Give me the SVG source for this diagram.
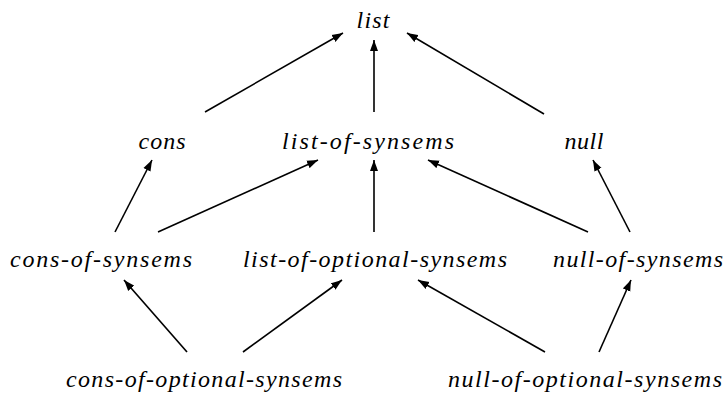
<svg xmlns="http://www.w3.org/2000/svg" width="728" height="396" viewBox="0 0 728 396">
<style>
.t{font-style:italic;font-size:24px;fill:#000;text-anchor:middle}
.e{stroke:#000;stroke-width:1.6;fill:none;marker-end:url(#a)}
</style>
<defs>
<marker id="a" markerUnits="userSpaceOnUse" markerWidth="12" markerHeight="9" refX="11" refY="4.5" orient="auto">
<path d="M0,0.5 L11,4.5 L0,8.5 z" fill="#000"/>
</marker>
</defs>
<rect width="728" height="396" fill="#fff"/>
<g id="edges">
<line class="e" x1="205" y1="112" x2="343" y2="33"/>
<line class="e" x1="374" y1="112" x2="374" y2="40"/>
<line class="e" x1="544" y1="114" x2="407" y2="33"/>
<line class="e" x1="115" y1="232" x2="152" y2="160"/>
<line class="e" x1="158" y1="232" x2="318" y2="160"/>
<line class="e" x1="374" y1="232" x2="374" y2="160"/>
<line class="e" x1="588" y1="232" x2="428" y2="160"/>
<line class="e" x1="630" y1="232" x2="593" y2="160"/>
<line class="e" x1="187" y1="352" x2="124" y2="280"/>
<line class="e" x1="243" y1="352" x2="342" y2="280"/>
<line class="e" x1="545" y1="352" x2="418" y2="280"/>
<line class="e" x1="599" y1="352" x2="631" y2="280"/>
</g>
<g font-family="Liberation Serif, DejaVu Serif, serif">
<g id="list"><text class="t" x="373" y="28" textLength="33" lengthAdjust="spacing">list</text></g>
<g id="cons"><text class="t" x="162" y="149" textLength="47" lengthAdjust="spacing">cons</text></g>
<g id="list-of-synsems"><text class="t" x="368" y="149" textLength="172" lengthAdjust="spacing">list-of-synsems</text></g>
<g id="null"><text class="t" x="584" y="149" textLength="39" lengthAdjust="spacing">null</text></g>
<g id="cons-of-synsems"><text class="t" x="101" y="267" textLength="182" lengthAdjust="spacing">cons-of-synsems</text></g>
<g id="list-of-optional-synsems"><text class="t" x="375" y="267" textLength="264" lengthAdjust="spacing">list-of-optional-synsems</text></g>
<g id="null-of-synsems"><text class="t" x="638" y="267" textLength="170" lengthAdjust="spacing">null-of-synsems</text></g>
<g id="cons-of-optional-synsems"><text class="t" x="204" y="387" textLength="276" lengthAdjust="spacing">cons-of-optional-synsems</text></g>
<g id="null-of-optional-synsems"><text class="t" x="585" y="387" textLength="274" lengthAdjust="spacing">null-of-optional-synsems</text></g>
</g>
</svg>
